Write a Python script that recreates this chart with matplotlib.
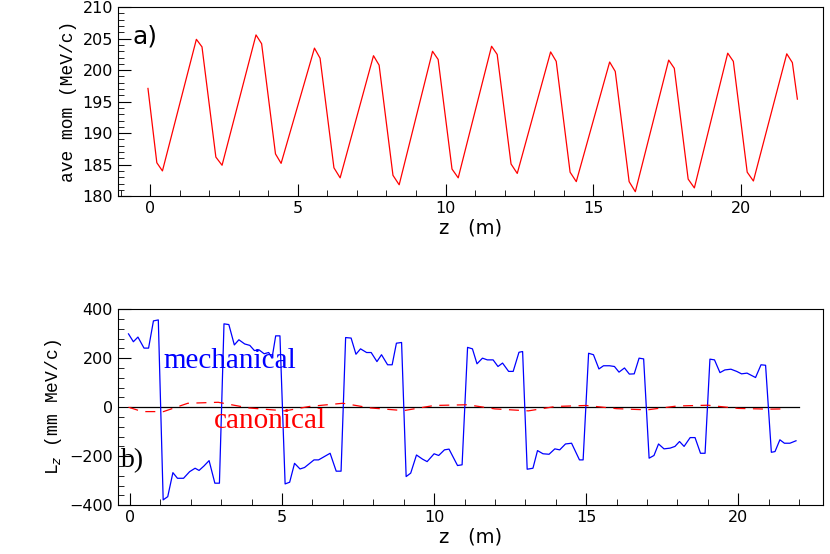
import matplotlib
matplotlib.use("Agg")
import matplotlib.pyplot as plt
from matplotlib.ticker import MultipleLocator

# Panel a: average momentum
z_mom = [-0.08, 0.22, 0.41, 1.56, 1.75, 2.22, 2.43, 3.58, 3.77, 4.24, 4.43, 5.56, 5.75,
         6.22, 6.43, 7.56, 7.75, 8.22, 8.43, 9.56, 9.75, 10.22, 10.43, 11.56, 11.75,
         12.22, 12.43, 13.56, 13.75, 14.22, 14.43, 15.56, 15.75, 16.22, 16.43, 17.56, 17.75,
         18.22, 18.43, 19.56, 19.75, 20.22, 20.43, 21.56, 21.75, 21.92]
mom = [197.1, 185.3, 184.0, 204.9, 203.7, 186.2, 184.9, 205.6, 204.2, 186.7, 185.2, 203.5, 201.9,
       184.5, 182.9, 202.3, 200.8, 183.3, 181.8, 203.0, 201.7, 184.3, 182.9, 203.8, 202.5,
       185.1, 183.6, 202.9, 201.4, 183.8, 182.3, 201.3, 199.8, 182.3, 180.7, 201.6, 200.3,
       182.7, 181.3, 202.7, 201.4, 183.8, 182.4, 202.6, 201.2, 195.4]

# Panel b: angular momentum
z_mech = [-0.05, 0.11, 0.26, 0.46, 0.61, 0.77, 0.93,
          1.09, 1.24, 1.41, 1.56, 1.76, 1.96, 2.14, 2.27, 2.43, 2.60, 2.79, 2.94,
          3.09, 3.25, 3.43, 3.58, 3.77, 3.94, 4.09, 4.24, 4.41, 4.56, 4.67, 4.79, 4.93,
          5.10, 5.25, 5.41, 5.59, 5.74, 5.90, 6.05, 6.20, 6.40, 6.58, 6.78, 6.94,
          7.09, 7.27, 7.43, 7.58, 7.78, 7.93, 8.12, 8.27, 8.47, 8.62, 8.76, 8.93,
          9.08, 9.23, 9.42, 9.62, 9.77, 10.00, 10.15, 10.34, 10.49, 10.77, 10.92,
          11.10, 11.26, 11.41, 11.59, 11.75, 11.94, 12.10, 12.25, 12.45, 12.60, 12.79, 12.91,
          13.06, 13.25, 13.40, 13.58, 13.78, 13.97, 14.13, 14.32, 14.52, 14.78, 14.90,
          15.08, 15.24, 15.42, 15.57, 15.77, 15.93, 16.08, 16.26, 16.42, 16.58, 16.74, 16.89,
          17.07, 17.23, 17.38, 17.56, 17.76, 17.92, 18.07, 18.22, 18.42, 18.58, 18.76, 18.91,
          19.07, 19.22, 19.40, 19.56, 19.76, 19.95, 20.11, 20.29, 20.57, 20.75, 20.90,
          21.09, 21.21, 21.37, 21.52, 21.70, 21.90]
L_mech = [299, 267, 286, 241, 241, 352, 356,
          -378, -365, -267, -290, -290, -263, -249, -258, -240, -218, -310, -310,
          340, 337, 254, 275, 258, 252, 231, 234, 218, 223, 200, 291, 291,
          -313, -306, -229, -252, -246, -230, -215, -215, -201, -188, -261, -261,
          284, 282, 216, 238, 223, 223, 186, 214, 173, 173, 261, 264,
          -283, -269, -195, -212, -222, -190, -197, -174, -171, -238, -235,
          244, 238, 177, 200, 193, 193, 166, 180, 146, 146, 224, 227,
          -253, -249, -177, -190, -192, -170, -174, -150, -147, -215, -215,
          220, 214, 156, 169, 169, 166, 143, 160, 135, 136, 200, 197,
          -208, -197, -150, -170, -167, -160, -140, -160, -124, -124, -188, -188,
          196, 193, 141, 152, 155, 146, 136, 139, 121, 173, 171,
          -184, -181, -133, -147, -147, -137]

z_can = [-0.05, 0.4, 1.1, 1.9, 2.9, 3.9, 5.1, 5.9, 7.0, 7.9, 9.0, 10.0, 11.1, 12.0,
         13.1, 14.0, 15.0, 16.0, 17.0, 18.0, 19.0, 20.0, 21.0, 21.5]
L_can = [0, -18, -18, 16, 20, -3, -15, 3, 16, -3, -14, 7, 10, -7,
         -15, 3, 7, -6, -11, 5, 8, -5, -8, -7]

RED = "#ff0000"
BLUE = "#0000ff"

fig = plt.figure(figsize=(8.3, 5.54), dpi=100)
ax1 = fig.add_axes([0.142, 0.646, 0.850, 0.341])
ax2 = fig.add_axes([0.142, 0.088, 0.850, 0.354])

for ax in (ax1, ax2):
    ax.xaxis.set_major_locator(MultipleLocator(5))
    ax.xaxis.set_minor_locator(MultipleLocator(1))
    ax.tick_params(which="both", direction="in", top=False, right=False, labelsize=11.5)
    ax.tick_params(which="major", length=9)
    ax.tick_params(which="minor", length=4)
    ax.set_xlabel("z   (m)", fontsize=14, labelpad=2)
ax1.set_xlim(-1.1, 22.8)
ax2.set_xlim(-0.4, 22.8)

ax1.plot(z_mom, mom, color=RED, lw=0.9)
ax1.set_ylim(180, 210)
ax1.yaxis.set_major_locator(MultipleLocator(5))
ax1.yaxis.set_minor_locator(MultipleLocator(1))
ax1.set_ylabel("ave mom (MeV/c)", fontsize=13, family="Liberation Mono")
ax1.text(-0.6, 205.3, "a)", fontsize=18, ha="left", va="center")

ax2.plot([0, 22], [0, 0], color="black", lw=0.9)
ax2.plot(z_mech, L_mech, color=BLUE, lw=0.9)
ax2.plot(z_can, L_can, color=RED, lw=0.9, dashes=(8, 6))
ax2.set_ylim(-400, 400)
ax2.yaxis.set_major_locator(MultipleLocator(200))
ax2.yaxis.set_minor_locator(MultipleLocator(40))
ax2.set_ylabel("L$_z$ (mm MeV/c)", fontsize=13, family="Liberation Mono")
ax2.text(1.1, 190, "mechanical", color=BLUE, fontsize=21, family="Liberation Serif",
         va="center")
ax2.text(2.75, -57, "canonical", color=RED, fontsize=21, family="Liberation Serif",
         va="center")
ax2.text(-0.3, -216, "b)", fontsize=20, family="Liberation Serif", ha="left", va="center")

fig.savefig("out.png", dpi=100)
